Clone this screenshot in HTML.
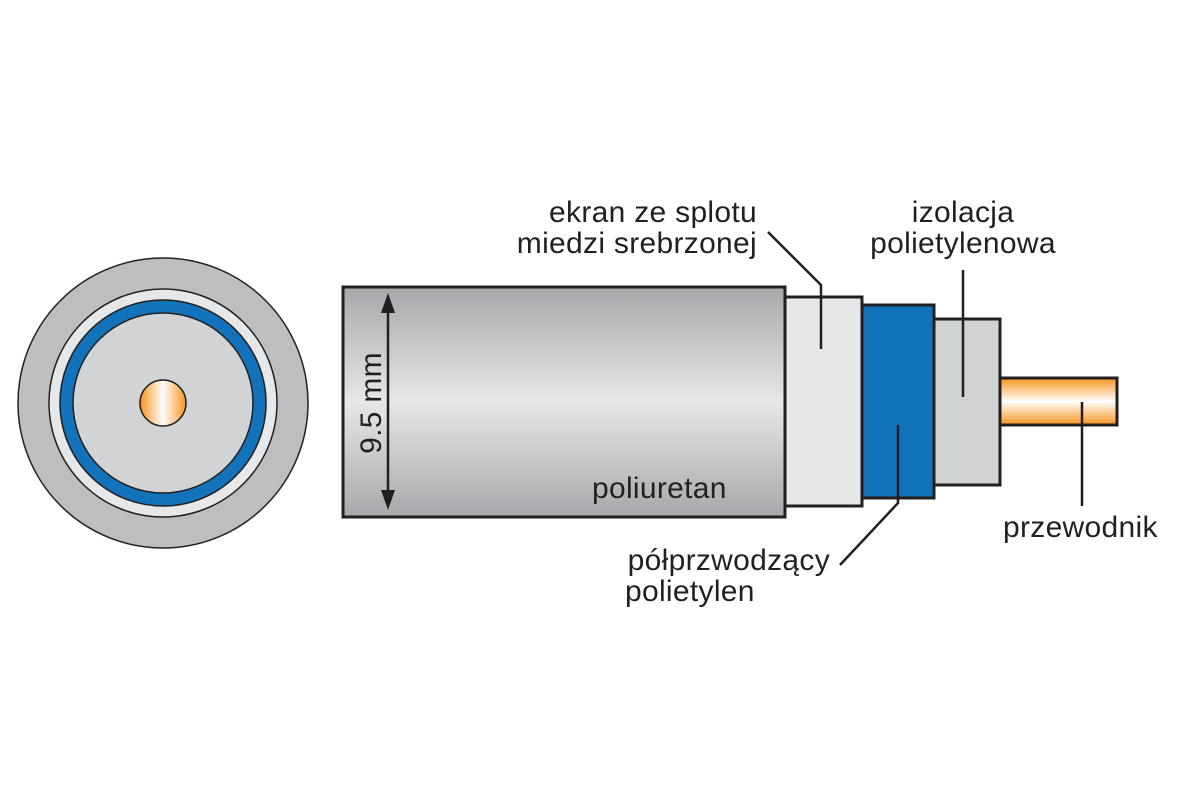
<!DOCTYPE html>
<html><head><meta charset="utf-8"><style>
body{margin:0;background:#fff}
svg text{font-family:"Liberation Sans",sans-serif;font-size:30px;letter-spacing:0.3px;fill:#231f20}
</style></head><body>
<svg width="1200" height="800" viewBox="0 0 1200 800" xmlns="http://www.w3.org/2000/svg">
<defs>
<linearGradient id="g" x1="0" y1="0" x2="0" y2="1">
<stop offset="0" stop-color="#a7a8ab"/><stop offset="0.5" stop-color="#e6e7e8"/><stop offset="1" stop-color="#a7a8ab"/>
</linearGradient>
<linearGradient id="cu" x1="0" y1="0" x2="0" y2="1">
<stop offset="0" stop-color="#f7941d"/><stop offset="0.5" stop-color="#ffffff"/><stop offset="1" stop-color="#f7941d"/>
</linearGradient>
<linearGradient id="cuh" x1="0" y1="0" x2="1" y2="0">
<stop offset="0" stop-color="#f7941d"/><stop offset="0.5" stop-color="#ffffff"/><stop offset="1" stop-color="#f7941d"/>
</linearGradient>
</defs>
<g stroke="#231f20" stroke-width="1.5">
<circle cx="163" cy="403" r="145" fill="#bcbec0"/>
<circle cx="163" cy="403" r="114" fill="#e6e7e8"/>
<circle cx="163" cy="403" r="103" fill="#1273bb"/>
<circle cx="163" cy="403" r="90" fill="#d1d3d4"/>
<circle cx="163" cy="403" r="23" fill="url(#cuh)"/>
</g>
<g stroke="#231f20" stroke-width="3">
<rect x="343" y="287" width="442" height="230" fill="url(#g)"/>
<rect x="785" y="297" width="77" height="209" fill="#e6e7e8"/>
<rect x="862" y="305" width="72" height="193" fill="#1273bb"/>
<rect x="934" y="319" width="66" height="166" fill="#d1d3d4"/>
<rect x="1000" y="378" width="117" height="47" fill="url(#cu)"/>
</g>
<g stroke="#231f20" stroke-width="2.5" fill="none">
<polyline points="768,232 821,285 821,349"/>
<polyline points="898,425 898,503 840,565"/>
<line x1="963" y1="270" x2="963" y2="397"/>
<line x1="1082" y1="402" x2="1082" y2="506"/>
<line x1="388" y1="305" x2="388" y2="498"/>
</g>
<polygon points="388,293 381,313 395,313" fill="#231f20"/>
<polygon points="388,510 381,490 395,490" fill="#231f20"/>
<text x="757" y="222" text-anchor="end">ekran ze splotu</text>
<text x="757" y="253" text-anchor="end">miedzi srebrzonej</text>
<text x="963" y="222" text-anchor="middle">izolacja</text>
<text x="963" y="253" text-anchor="middle">polietylenowa</text>
<text x="1003" y="537">przewodnik</text>
<text x="830" y="570" text-anchor="end">półprzwodzący</text>
<text x="625" y="601">polietylen</text>
<text x="592" y="498">poliuretan</text>
<text x="0" y="0" transform="translate(381,403) rotate(-90)" text-anchor="middle">9.5 mm</text>
</svg>
</body></html>
